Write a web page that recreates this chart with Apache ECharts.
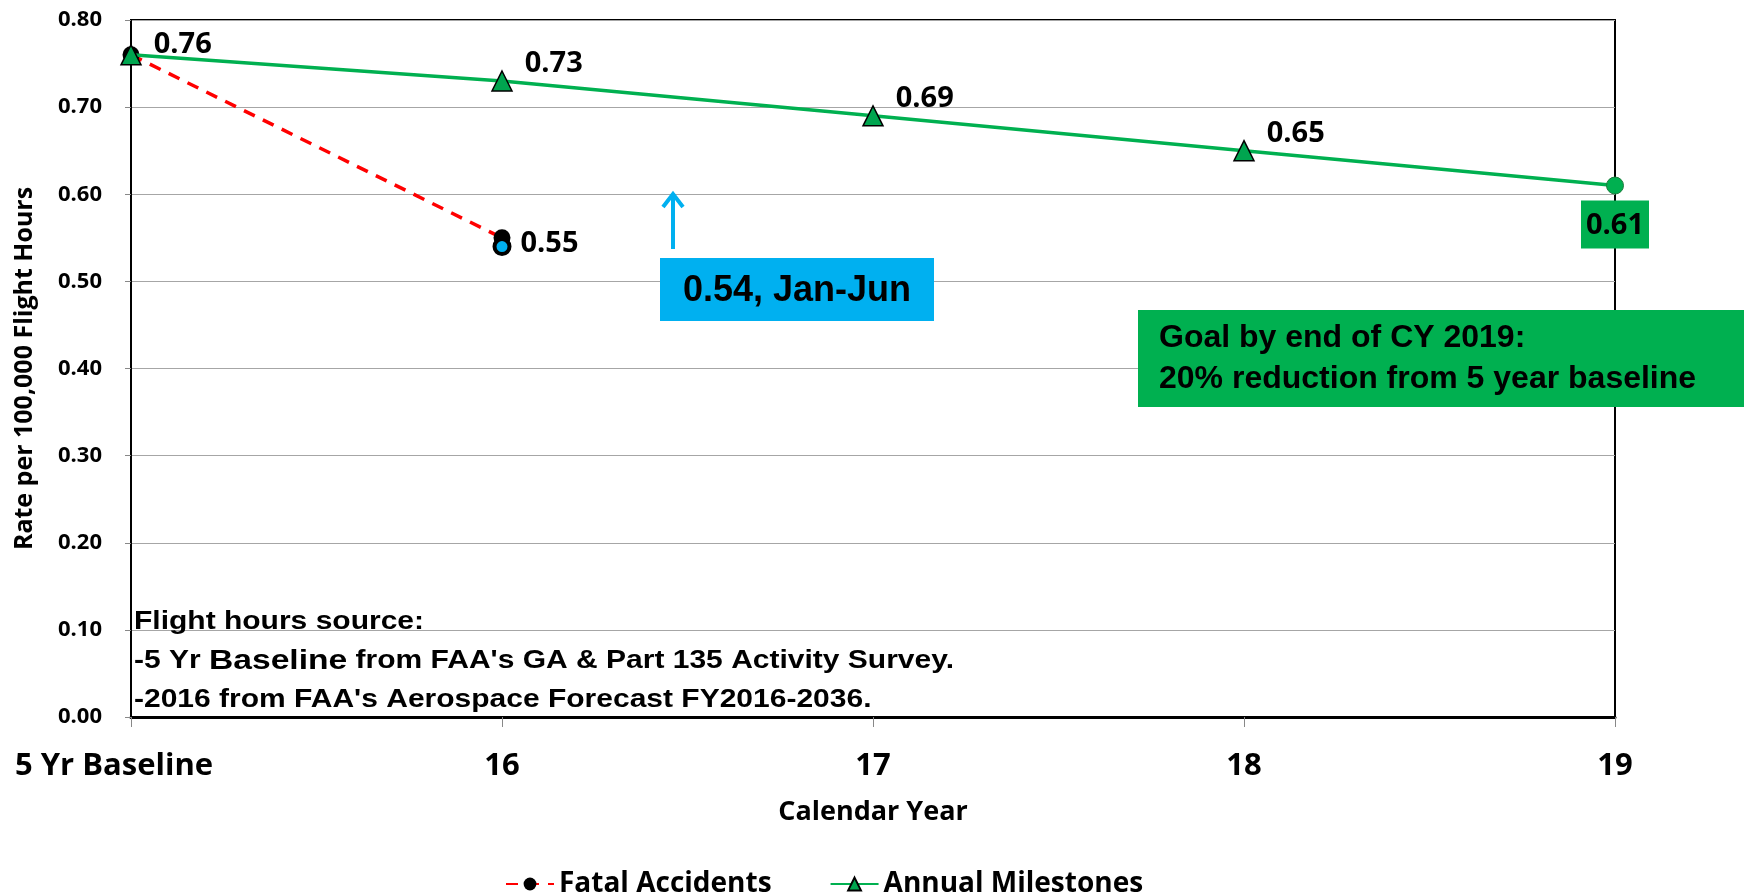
<!DOCTYPE html>
<html>
<head>
<meta charset="utf-8">
<script src="https://cdn.jsdelivr.net/npm/echarts@6/dist/echarts.min.js"></script>
<style>
  html, body { margin: 0; padding: 0; background: #fff; }
  #chart { width: 1744px; height: 896px; }
</style>
</head>
<body>
<div id="chart"></div>
<script>
'use strict'

var categories = ['5 Yr Baseline', '16', '17', '18', '19']
var fatalAccidents = [0.76, 0.55, null, null, null]
var janJun = [null, 0.54, null, null, null]
var milestones = [0.76, 0.73, 0.69, 0.65, 0.61]
var yTicks = [0, 0.1, 0.2, 0.3, 0.4, 0.5, 0.6, 0.7, 0.8]

var calibri = "'Open Sans', 'Noto Sans', sans-serif"
var arial = "'Liberation Sans', Arial, sans-serif"

var myChart = echarts.init(document.getElementById('chart'))

// first category label sits a bit left of its tick, as in the original
var categoryData = categories.map(function (c, i) {
	return i === 0 ? { value: c, textStyle: { padding: [0, 34, 0, 0] } } : c
})

// milestone points: last one is the goal, drawn as a circle with a boxed label
var milestoneData = milestones.map(function (v, i) {
	var item = { value: v }
	if (i === 0) {
		item.label = { offset: [0, -10] }
	}
	if (i === milestones.length - 1) {
		item.symbol = 'circle'
		item.symbolSize = 17
		item.itemStyle = { color: '#00b050', borderColor: '#1c7c3c', borderWidth: 1 }
		item.label = {
			position: 'bottom',
			distance: 6,
			offset: [0, 0],
			backgroundColor: '#00b050',
			padding: [11, 5, 8, 5]
		}
	}
	return item
})

var option = {
	animation: false,
	textStyle: { fontFamily: calibri },
	grid: {
		left: 131, right: 129, top: 20, bottom: 179,
		show: true, borderColor: '#000', borderWidth: 2
	},
	legend: {
		data: ['Fatal Accidents', 'Annual Milestones'],
		left: 500, top: 865,
		itemWidth: 48, itemHeight: 16, itemGap: 58,
		textStyle: { fontFamily: calibri, fontSize: 28, fontWeight: 'bold', color: '#000' }
	},
	xAxis: {
		type: 'category',
		data: categoryData,
		boundaryGap: false,
		name: 'Calendar Year',
		nameLocation: 'middle',
		nameGap: 82,
		nameTextStyle: { fontSize: 27, fontWeight: 'bold', color: '#000', fontFamily: calibri },
		axisLine: { lineStyle: { color: '#000', width: 3 } },
		axisTick: { show: true, length: 10, alignWithLabel: true, lineStyle: { color: '#888' } },
		axisLabel: { margin: 34, fontSize: 31, fontWeight: 'bold', color: '#000', fontFamily: calibri }
	},
	yAxis: {
		type: 'value',
		min: yTicks[0],
		max: yTicks[yTicks.length - 1],
		interval: 0.1,
		name: 'Rate per 100,000 Flight Hours',
		nameLocation: 'middle',
		nameGap: 94,
		nameTextStyle: { fontSize: 25, fontWeight: 'bold', color: '#000', fontFamily: calibri },
		axisLine: { show: true, lineStyle: { color: '#000', width: 2 } },
		axisTick: { show: true, length: 6, lineStyle: { color: '#888' } },
		splitLine: { lineStyle: { color: '#a6a6a6', width: 1 } },
		axisLabel: {
			margin: 29, fontSize: 22, fontWeight: 'bold', color: '#000', fontFamily: calibri,
			formatter: function (v) { return v.toFixed(2) }
		}
	},
	series: [
		{
			name: 'Fatal Accidents',
			type: 'line',
			data: fatalAccidents,
			symbol: 'circle',
			symbolSize: 17,
			itemStyle: { color: '#000' },
			lineStyle: { color: '#ff0000', width: 3.5, type: [12, 9] },
			label: {
				show: true,
				position: 'right',
				distance: 10,
				offset: [0, 6],
				fontSize: 29, fontWeight: 'bold', color: '#000', fontFamily: calibri,
				formatter: function (p) { return p.dataIndex === 0 ? '' : p.value.toFixed(2) }
			},
			z: 2
		},
		{
			name: 'Jan-Jun',
			type: 'line',
			data: janJun,
			symbol: 'circle',
			symbolSize: 15,
			showSymbol: true,
			lineStyle: { width: 0 },
			itemStyle: { color: '#00b0f0', borderColor: '#000', borderWidth: 4 },
			z: 4
		},
		{
			name: 'Annual Milestones',
			type: 'line',
			data: milestoneData,
			symbol: 'triangle',
			symbolSize: 20,
			itemStyle: { color: '#00a54f', borderColor: '#000', borderWidth: 1.5 },
			lineStyle: { color: '#00b050', width: 3.5 },
			label: {
				show: true,
				position: 'right',
				distance: 12,
				offset: [0, -17],
				fontSize: 29, fontWeight: 'bold', color: '#000', fontFamily: calibri,
				formatter: function (p) { return p.value.toFixed(2) }
			},
			z: 3
		}
	],
	graphic: [
		// note about flight hour sources (original text is stretched wide)
		{
			type: 'text', x: 134, y: 603, z: 100,
			scaleX: 1.2,
			style: {
				text: 'Flight hours source:\n-5 Yr {b|Baseline} from FAA\'s GA & Part 135 Activity Survey.\n-2016 from FAA\'s Aerospace Forecast FY2016-2036.',
				font: 'bold 25px ' + arial,
				lineHeight: 39,
				fill: '#000',
				rich: { b: { fontFamily: arial, fontSize: 28, fontWeight: 'bold', lineHeight: 39 } }
			}
		},
		// arrow pointing up at the partial-year value
		{
			type: 'line', z: 100,
			shape: { x1: 673, y1: 249, x2: 673, y2: 194 },
			style: { stroke: '#00b0f0', lineWidth: 4 }
		},
		{
			type: 'polyline', z: 100,
			shape: { points: [[663, 207], [673, 194], [683, 207]] },
			style: { stroke: '#00b0f0', lineWidth: 4, fill: null }
		},
		{
			type: 'rect', z: 100,
			shape: { x: 660, y: 258, width: 274, height: 63 },
			style: { fill: '#00b0f0' }
		},
		{
			type: 'text', z: 101, x: 797, y: 291,
			style: { text: '0.54, Jan-Jun', font: 'bold 36px ' + arial, fill: '#000', align: 'center', verticalAlign: 'middle' }
		},
		// goal box
		{
			type: 'rect', z: 100,
			shape: { x: 1138, y: 310, width: 606, height: 97 },
			style: { fill: '#00b050' }
		},
		{
			type: 'text', z: 101, x: 1159, y: 359,
			style: {
				text: 'Goal by end of CY 2019:\n20% reduction from 5 year baseline',
				font: 'bold 32px ' + arial, lineHeight: 41, fill: '#000', verticalAlign: 'middle'
			}
		}
	]
}

myChart.setOption(option)
window.onresize = myChart.resize
</script>
</body>
</html>
